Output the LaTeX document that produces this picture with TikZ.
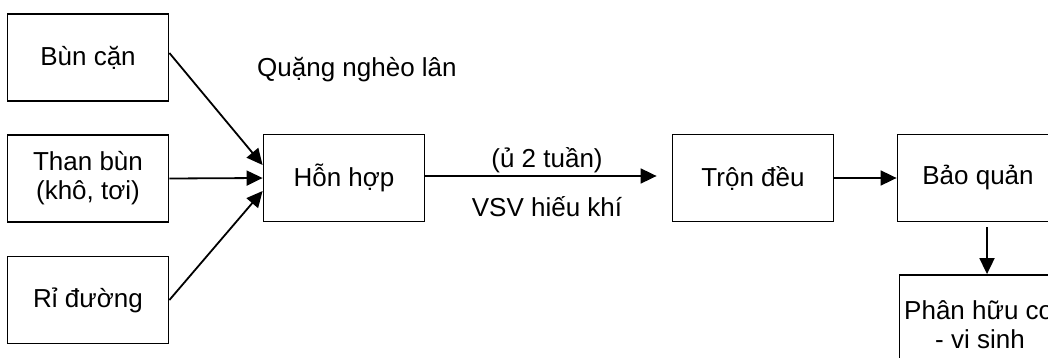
\documentclass[tikz,border=0pt]{standalone}
\usepackage{fontspec}
\setmainfont{Liberation Sans}
\usetikzlibrary{arrows.meta}
\begin{document}
\begin{tikzpicture}[x=1pt,y=-1pt,
  font=\fontsize{26}{29}\selectfont,
  box/.style={draw,line width=1.8pt,minimum width=161pt,minimum height=87pt,
    inner sep=0pt,align=center},
  flow/.style={line width=1.8pt,-{Triangle[length=16pt,width=15pt]}},
  lbl/.style={inner sep=0pt}]
  \clip (0,0) rectangle (1048,358);
  \fill[white] (0,0) rectangle (1048,358);
  % input materials
  \node[box] (bun)   at (88,57.5)  {Bùn cặn};
  \node[box] (than)  at (88,178.5) {Than bùn\\(khô, tơi)};
  \node[box] (ri)    at (88,300)   {Rỉ đường};
  % process chain
  \node[box] (hon)   at (344,178)  {Hỗn hợp};
  \node[box] (tron)  at (753,178)  {Trộn đều};
  \node[box] (bao)   at (978,178)  {Bảo quản};
  \node[box,minimum height=99pt] (phan) at (980,324.5) {Phân hữu cơ\\- vi sinh};
  % labels
  \node[lbl,anchor=base west] (quang) at (257,77) {Quặng nghèo lân};
  \node[lbl] (u)   at (547,160) {(ủ 2 tuần)};
  \node[lbl] (vsv) at (547,207) {VSV hiếu khí};
  % connectors
  \draw[flow] ([yshift=4.5pt]bun.east) -- ([yshift=13pt]hon.west);
  \draw[flow] (than.east) -- (hon.west);
  \draw[flow] (ri.east) -- ([yshift=-13pt]hon.west);
  \draw[flow,shorten >=15pt] ([yshift=2pt]hon.east) -- ([yshift=2pt]tron.west);
  \draw[flow] (tron.east) -- (bao.west);
  \draw[flow,shorten <=5pt] ([xshift=9pt]bao.south) -- ([xshift=7pt]phan.north);
\end{tikzpicture}
\end{document}
